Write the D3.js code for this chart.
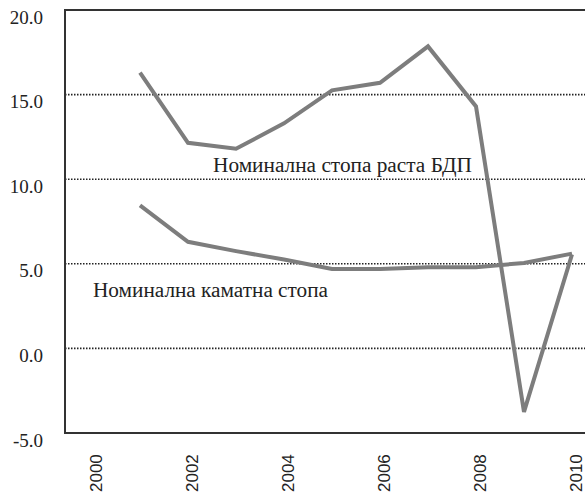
<!DOCTYPE html>
<html>
<head>
<meta charset="utf-8">
<script src="https://cdn.jsdelivr.net/npm/d3@7"></script>
<style>
  html, body { margin: 0; padding: 0; background: #fff; }
  svg { display: block; }
</style>
</head>
<body>
<svg id="chart" width="585" height="495"></svg>
<script>
// Years on the x axis and the two series (in %)
const years = [2001, 2002, 2003, 2004, 2005, 2006, 2007, 2008, 2009, 2010];
const gdpGrowth = [16.3, 12.15, 11.8, 13.3, 15.25, 15.7, 17.85, 14.3, -3.75, 5.55];
const interestRate = [8.45, 6.3, 5.75, 5.25, 4.7, 4.7, 4.8, 4.8, 5.05, 5.6];
const xTicks = [2000, 2002, 2004, 2006, 2008, 2010];
const yTicks = [-5, 0, 5, 10, 15, 20];
const seriesLabels = ["Номинална стопа раста БДП", "Номинална каматна стопа"];

const svg = d3.select("#chart");
const plotLeft = 65, plotTop = 10, plotRight = 585, plotBottom = 433;

const x = d3.scaleLinear().domain([2000, 2010]).range([92, 572]);
const y = d3.scaleLinear().domain([-5, 20]).range([plotBottom, plotTop]);

const serif = "'Liberation Serif', 'DejaVu Serif', serif";
const sans = "'Liberation Sans', Arial, sans-serif";

// Dotted horizontal gridlines
svg.append("g")
  .selectAll("line")
  .data(yTicks.filter(v => v > -5 && v < 20))
  .join("line")
  .attr("x1", plotLeft).attr("x2", plotRight)
  .attr("y1", d => y(d)).attr("y2", d => y(d))
  .attr("stroke", "#222")
  .attr("stroke-width", 1.6)
  .attr("stroke-dasharray", "1.5 1.5");

// Frame: top, left and bottom edges
svg.append("path")
  .attr("d", `M${plotRight},${plotTop}H${plotLeft}V${plotBottom}H${plotRight}`)
  .attr("fill", "none")
  .attr("stroke", "#333")
  .attr("stroke-width", 2);

// Y axis labels
const yAxis = svg.append("g")
  .attr("transform", `translate(${plotLeft},0)`)
  .call(d3.axisLeft(y).tickValues(yTicks).tickFormat(d => d.toFixed(1)).tickSize(0).tickPadding(22));
yAxis.select(".domain").remove();
yAxis.selectAll("text")
  .attr("dy", "13")
  .attr("fill", "#222")
  .style("font-family", serif)
  .style("font-size", "19px");

// X axis labels, rotated
const xAxis = svg.append("g")
  .attr("transform", `translate(0,${plotBottom})`)
  .call(d3.axisBottom(x).tickValues(xTicks).tickFormat(d3.format("d")).tickSize(0));
xAxis.select(".domain").remove();
xAxis.selectAll("text")
  .attr("transform", "translate(3.5,59) rotate(-90)")
  .attr("x", 0).attr("y", 0)
  .attr("dy", "0.35em")
  .attr("text-anchor", "start")
  .attr("fill", "#222")
  .style("font-family", sans)
  .style("font-size", "17px");

// Series lines
const line = d3.line().x((d, i) => x(years[i])).y(d => y(d));
[gdpGrowth, interestRate].forEach(series => {
  svg.append("path")
    .datum(series)
    .attr("d", line)
    .attr("fill", "none")
    .attr("stroke", "#7d7d7d")
    .attr("stroke-width", 4)
    .attr("stroke-linejoin", "miter");
});

// Series labels
svg.append("text")
  .attr("x", 213).attr("y", 172)
  .attr("fill", "#222")
  .attr("textLength", 259).attr("lengthAdjust", "spacingAndGlyphs")
  .style("font-family", serif).style("font-size", "20px")
  .text(seriesLabels[0]);
svg.append("text")
  .attr("x", 93).attr("y", 297)
  .attr("fill", "#222")
  .attr("textLength", 235).attr("lengthAdjust", "spacingAndGlyphs")
  .style("font-family", serif).style("font-size", "20px")
  .text(seriesLabels[1]);
</script>
</body>
</html>
